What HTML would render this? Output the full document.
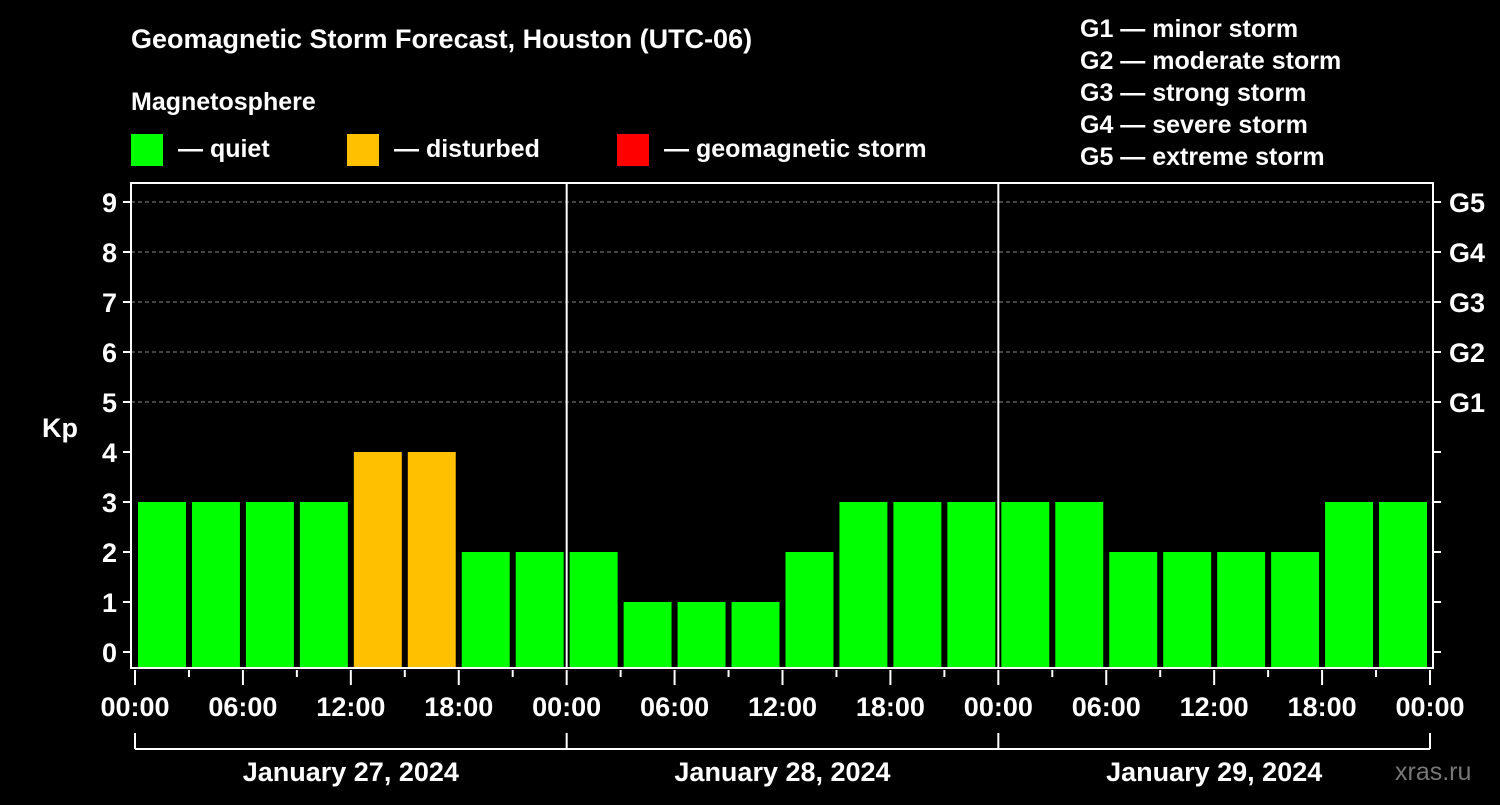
<!DOCTYPE html>
<html><head><meta charset="utf-8"><style>
body{margin:0;background:#000;width:1500px;height:800px;overflow:hidden}
svg text{font-family:"Liberation Sans",Arial,sans-serif;font-weight:bold;fill:#fff}
</style></head><body>
<svg id="chart" width="1500" height="800" xmlns="http://www.w3.org/2000/svg">
<rect width="1500" height="800" fill="#000"/>
<text x="131" y="48" font-size="27">Geomagnetic Storm Forecast, Houston (UTC-06)</text>
<text x="131" y="110" font-size="25">Magnetosphere</text>
<g><rect x="131" y="134" width="32" height="32" fill="#00ff00"/><text x="178" y="157" font-size="25">— quiet</text></g>
<g><rect x="347" y="134" width="32" height="32" fill="#ffc000"/><text x="394" y="157" font-size="25">— disturbed</text></g>
<g><rect x="617" y="134" width="32" height="32" fill="#ff0000"/><text x="664" y="157" font-size="25">— geomagnetic storm</text></g>
<g font-size="25">
<text x="1080" y="37">G1 — minor storm</text><text x="1080" y="69">G2 — moderate storm</text><text x="1080" y="101">G3 — strong storm</text><text x="1080" y="133">G4 — severe storm</text><text x="1080" y="165">G5 — extreme storm</text></g>
<text x="42" y="437" font-size="27">Kp</text>
<text x="1395" y="780" font-size="25" fill="#777" style="fill:#777;font-weight:normal">xras.ru</text>
<g id="grid"></g><g id="bars"></g><g id="axes"></g>
</svg>
<script>
const kpValues=[3,3,3,3,4,4,2,2, 2,1,1,1,2,3,3,3, 3,3,2,2,2,2,3,3];
const dayLabels=["January 27, 2024","January 28, 2024","January 29, 2024"];
const hourLabels=["00:00","06:00","12:00","18:00"];
const gLabels=["G1","G2","G3","G4","G5"];
const NS="http://www.w3.org/2000/svg";
const L=131,R=1433,T=183,B=668,X0=135,X1=1430;
const xs=h=>X0+(X1-X0)*h/72;
const ys=v=>652-50*v;
function mk(tag,attrs,parent){const e=document.createElementNS(NS,tag);for(const k in attrs)e.setAttribute(k,attrs[k]);document.getElementById(parent).appendChild(e);return e;}
for(let v=5;v<=9;v++){
 const g=mk('line',{x1:L,x2:R,y1:ys(v),y2:ys(v),stroke:'#888','stroke-dasharray':'4,3','stroke-width':1},'grid');
 
 
}
kpValues.forEach((v,i)=>{
 const col=v>=5?'#ff0000':(v>=4?'#ffc000':'#00ff00');
 const r=mk('rect',{x:xs(i*3)+3,y:ys(v),width:xs(3)-X0-6,height:B-ys(v),fill:col},'bars');
 
 
});
mk('rect',{x:L,y:T,width:R-L,height:B-T,fill:'none',stroke:'#fff','stroke-width':2},'axes');
for(let d=1;d<3;d++){mk('line',{x1:xs(d*24),x2:xs(d*24),y1:T,y2:B,stroke:'#fff','stroke-width':2},'axes');}
for(let v=0;v<=9;v++){
 mk('line',{x1:L-8,x2:L,y1:ys(v),y2:ys(v),stroke:'#fff','stroke-width':2},'axes');
 mk('line',{x1:R,x2:R+8,y1:ys(v),y2:ys(v),stroke:'#fff','stroke-width':2},'axes');
 const t=mk('text',{x:L-14,y:ys(v)+10,'font-size':27,'text-anchor':'end'},'axes');t.textContent=v;
 
 
}
gLabels.forEach((g,i)=>{const t=mk('text',{x:R+16,y:ys(5+i)+10,'font-size':27},'axes');t.textContent=g;
 
 });
for(let h=0;h<=72;h+=3){
 const major=h%6===0;
 mk('line',{x1:xs(h),x2:xs(h),y1:B+2,y2:B+(major?17:9),stroke:'#fff','stroke-width':2},'axes');
 if(major){const t=mk('text',{x:xs(h),y:716,'font-size':27,'text-anchor':'middle'},'axes');t.textContent=hourLabels[(h%24)/6];
 
 }
}
mk('line',{x1:X0,x2:X1,y1:749,y2:749,stroke:'#fff','stroke-width':2},'axes');
for(let d=0;d<=3;d++)mk('line',{x1:xs(d*24),x2:xs(d*24),y1:733,y2:749,stroke:'#fff','stroke-width':2},'axes');
dayLabels.forEach((s,d)=>{const t=mk('text',{x:xs(d*24+12),y:781,'font-size':27,'text-anchor':'middle'},'axes');t.textContent=s;
 
 });
</script>
</body></html>
